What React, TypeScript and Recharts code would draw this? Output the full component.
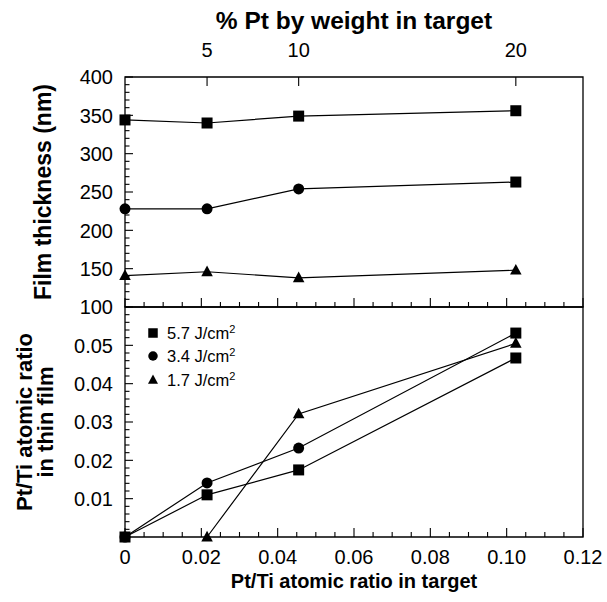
import React from 'react';
import { LineChart, Line, XAxis, YAxis, ReferenceArea, ReferenceLine, Legend } from 'recharts';

// Pt/Ti atomic ratio in the target (pure TiO2, then 5, 10, 20 wt% Pt)
const targetRatio = [0, 0.0215, 0.0455, 0.1024];

// top axis: % Pt by weight and where it falls on the ratio axis
const ptWeightPct = [5, 10, 20];
const ptWeightAt = [0.0215, 0.0455, 0.1024];

const fluences = ['5.7', '3.4', '1.7'];

// film thickness (nm)
const thickness57 = [344, 340, 349, 356];
const thickness34 = [228, 228, 254, 263];
const thickness17 = [141, 146, 138, 148];

// Pt/Ti atomic ratio in the film
const filmRatio57 = [0, 0.011, 0.0175, 0.0467];
const filmRatio34 = [0, 0.0141, 0.0232, 0.0532];
const filmRatio17 = [null, 0, 0.0321, 0.0505];

const xTickLabels = [0, 0.02, 0.04, 0.06, 0.08, 0.1, 0.12];
const thicknessTickLabels = [100, 150, 200, 250, 300, 350, 400];
const filmRatioTickLabels = [0.01, 0.02, 0.03, 0.04, 0.05];

const FONT = '"Liberation Sans", Arial, sans-serif';
const shapes = ['square', 'circle', 'triangle'];
// draw the circles last so they sit on top at the origin
const drawOrder = [0, 2, 1];

const near = (list: number[], v: number) => list.some((m) => Math.abs(m - v) < 1e-9);

// minor tick positions between the labelled ones
function steps(start: number, end: number, step: number) {
  const n = Math.round((end - start) / step);
  return Array.from({ length: n + 1 }, (_, i) => +(start + i * step).toFixed(6));
}

function Marker({ cx, cy, shape, size }: { cx: number; cy: number; shape: string; size: number }) {
  const h = size / 2;
  if (shape === 'square') return <rect x={cx - h} y={cy - h} width={size} height={size} fill="#000" />;
  if (shape === 'circle') return <circle cx={cx} cy={cy} r={h} fill="#000" />;
  return (
    <polygon
      points={`${cx},${cy - h * 1.15} ${cx + h * 1.05},${cy + h * 0.8} ${cx - h * 1.05},${cy + h * 0.8}`}
      fill="#000"
    />
  );
}

const dotFor = (shape: string, count: number) => (props: any) => {
  const { cx, cy, index } = props;
  if (cx == null || cy == null) return <g key={`d${index}`} />;
  // the source figure draws the last 3.4 J/cm2 point as a square
  const s = shape === 'circle' && index === count - 1 ? 'square' : shape;
  return <Marker key={`d${index}`} cx={cx} cy={cy} shape={s} size={11} />;
};

const toPoints = (values: (number | null)[]) =>
  targetRatio.map((x, i) => ({ x, y: values[i] })).filter((p) => p.y != null);

// tick labels only; the tick marks are drawn with ReferenceLine shapes below
const leftLabel = (fmt: (v: number) => string) => (props: any) => (
  <text x={props.x - 12} y={props.y} dy="0.36em" textAnchor="end" fontSize={20} fontFamily={FONT} fill="#000">
    {fmt(props.payload.value)}
  </text>
);

const bottomLabel = (fmt: (v: number) => string) => (props: any) => (
  <text x={props.x} y={props.y + 27} textAnchor="middle" fontSize={20} fontFamily={FONT} fill="#000">
    {fmt(props.payload.value)}
  </text>
);

const topLabel = (props: any) => (
  <text x={props.x} y={props.y - 20} textAnchor="middle" fontSize={20} fontFamily={FONT} fill="#000">
    {ptWeightPct[ptWeightAt.indexOf(props.payload.value)]}
  </text>
);

const markStyle = { stroke: '#000', strokeWidth: 1.1, fill: 'none' };

// short inward tick on the left edge
const leftMarks = (values: number[], majors: number[]) =>
  values.map((v) => (
    <ReferenceLine
      key={`ly${v}`}
      xAxisId="base"
      yAxisId="l"
      y={v}
      stroke="none"
      shape={(p: any) => (
        <path d={`M${Math.min(p.x1, p.x2)},${p.y1}h${near(majors, v) ? 8 : 4.5}`} {...markStyle} />
      )}
    />
  ));

// short inward tick on the bottom (up) or top (down) edge
const edgeMarks = (values: number[], majors: number[], edge: 'bottom' | 'top') =>
  values.map((v) => (
    <ReferenceLine
      key={`${edge}${v}`}
      xAxisId="base"
      yAxisId="l"
      x={v}
      stroke="none"
      shape={(p: any) => {
        const len = near(majors, v) ? 9 : 5;
        const y0 = edge === 'bottom' ? Math.max(p.y1, p.y2) : Math.min(p.y1, p.y2);
        return <path d={`M${p.x1},${y0}v${edge === 'bottom' ? -len : len}`} {...markStyle} />;
      }}
    />
  ));

// rotated axis title; bx is the baseline of the first line
function VTitle({ viewBox, lines, bx, size }: any) {
  const cy = viewBox.y + viewBox.height / 2;
  return (
    <text
      transform={`translate(${bx},${cy}) rotate(-90)`}
      textAnchor="middle"
      fontSize={size}
      fontWeight="bold"
      fontFamily={FONT}
      fill="#000"
    >
      {lines.map((l: string, i: number) => (
        <tspan key={i} x={0} dy={i === 0 ? 0 : 21}>
          {l}
        </tspan>
      ))}
    </text>
  );
}

function FluenceLegend() {
  return (
    <div style={{ fontFamily: FONT, fontSize: 16.5, color: '#000' }}>
      {fluences.map((f, i) => (
        <div key={f} style={{ display: 'flex', alignItems: 'center', height: 23.5 }}>
          <svg width={12} height={12} style={{ flex: 'none' }}>
            <Marker cx={6} cy={6} shape={shapes[i]} size={9.5} />
          </svg>
          <span style={{ marginLeft: 8, lineHeight: 1, whiteSpace: 'nowrap' }}>
            {f} J/cm<sup style={{ fontSize: 11, lineHeight: 0 }}>2</sup>
          </span>
        </div>
      ))}
    </div>
  );
}

const fmtRatio = (v: number) => (v === 0 ? '0' : v.toFixed(2));

export default function App() {
  const thicknessSeries = [thickness57, thickness34, thickness17];
  const filmSeries = [filmRatio57, filmRatio34, filmRatio17];
  const minorX = steps(0, 0.12, 0.005);

  return (
    <div style={{ position: 'absolute', left: 0, top: 0, width: 607, height: 602, background: '#fff' }}>
      <div style={{ position: 'absolute', left: 0, top: 0 }}>
        <LineChart width={607} height={320} margin={{ top: 0, right: 24, bottom: 13, left: 0 }}>
          <XAxis
            xAxisId="top"
            orientation="top"
            type="number"
            dataKey="x"
            domain={[0, 0.12]}
            ticks={ptWeightAt}
            interval={0}
            height={77}
            axisLine={false}
            tickLine={false}
            tickSize={0}
            tickMargin={0}
            tick={topLabel}
            allowDataOverflow
            label={{
              value: '% Pt by weight in target',
              position: 'insideTop',
              offset: 12,
              fontSize: 24.5,
              fontWeight: 'bold',
              fill: '#000',
              fontFamily: FONT,
            }}
          />
          <XAxis
            xAxisId="base"
            orientation="bottom"
            type="number"
            dataKey="x"
            domain={[0, 0.12]}
            height={0}
            axisLine={false}
            tickLine={false}
            tick={false}
          />
          <YAxis
            yAxisId="l"
            type="number"
            domain={[100, 400]}
            ticks={thicknessTickLabels}
            interval={0}
            width={125}
            axisLine={false}
            tickLine={false}
            tickSize={0}
            tickMargin={0}
            tick={leftLabel((v) => String(v))}
            label={<VTitle lines={['Film thickness  (nm)']} bx={51} size={23} />}
          />
          <ReferenceArea
            xAxisId="base"
            yAxisId="l"
            x1={0}
            x2={0.12}
            y1={100}
            y2={400}
            fill="none"
            fillOpacity={0}
            stroke="#000"
            strokeWidth={1.3}
          />
          {leftMarks(steps(100, 400, 10), thicknessTickLabels)}
          {edgeMarks(minorX, xTickLabels, 'bottom')}
          {edgeMarks(ptWeightAt, ptWeightAt, 'top')}
          {drawOrder.map((i) => (
            <Line
              key={fluences[i]}
              xAxisId="base"
              yAxisId="l"
              name={fluences[i]}
              data={toPoints(thicknessSeries[i])}
              dataKey="y"
              type="linear"
              stroke="#000"
              strokeWidth={1.2}
              dot={dotFor(shapes[i], toPoints(thicknessSeries[i]).length)}
              activeDot={false}
              isAnimationActive={false}
            />
          ))}
        </LineChart>
      </div>

      <div style={{ position: 'absolute', left: 0, top: 300 }}>
        <LineChart width={607} height={302} margin={{ top: 7, right: 24, bottom: 0, left: 0 }}>
          <XAxis
            xAxisId="base"
            orientation="bottom"
            type="number"
            dataKey="x"
            domain={[0, 0.12]}
            ticks={xTickLabels}
            interval={0}
            height={65}
            axisLine={false}
            tickLine={false}
            tickSize={0}
            tickMargin={0}
            tick={bottomLabel(fmtRatio)}
            label={{
              value: 'Pt/Ti atomic ratio in target',
              position: 'insideBottom',
              offset: 14,
              fontSize: 20,
              fontWeight: 'bold',
              fill: '#000',
              fontFamily: FONT,
            }}
          />
          <YAxis
            yAxisId="l"
            type="number"
            domain={[0, 0.06]}
            ticks={filmRatioTickLabels}
            interval={0}
            width={125}
            axisLine={false}
            tickLine={false}
            tickSize={0}
            tickMargin={0}
            tick={leftLabel((v) => v.toFixed(2))}
            label={<VTitle lines={['Pt/Ti atomic ratio', 'in thin film']} bx={32} size={22} />}
          />
          <ReferenceArea
            xAxisId="base"
            yAxisId="l"
            x1={0}
            x2={0.12}
            y1={0}
            y2={0.06}
            fill="none"
            fillOpacity={0}
            stroke="#000"
            strokeWidth={1.3}
          />
          {leftMarks(steps(0, 0.06, 0.002), filmRatioTickLabels)}
          {edgeMarks(minorX, xTickLabels, 'bottom')}
          {drawOrder.map((i) => (
            <Line
              key={fluences[i]}
              xAxisId="base"
              yAxisId="l"
              name={fluences[i]}
              data={toPoints(filmSeries[i])}
              dataKey="y"
              type="linear"
              stroke="#000"
              strokeWidth={1.2}
              dot={dotFor(shapes[i], toPoints(filmSeries[i]).length)}
              activeDot={false}
              isAnimationActive={false}
            />
          ))}
          <Legend
            layout="vertical"
            align="center"
            verticalAlign="middle"
            wrapperStyle={{ left: 147, top: 21, width: 'auto' }}
            content={<FluenceLegend />}
          />
        </LineChart>
      </div>
    </div>
  );
}
